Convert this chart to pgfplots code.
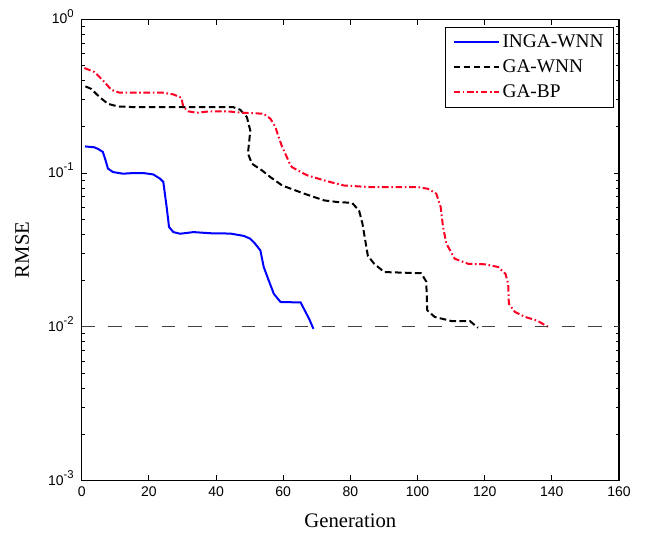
\documentclass[border=0pt]{standalone}
\usepackage{fontspec}
\setmainfont{Liberation Serif}
\setsansfont{Liberation Sans}
\usepackage{pgfplots}
\pgfplotsset{compat=1.18}
\definecolor{mred}{RGB}{255,0,36}
\newcommand{\sups}[1]{\raisebox{5.2pt}{\fontsize{8.5}{9}\selectfont #1}}
\begin{document}
\begin{tikzpicture}
\begin{axis}[
  scale only axis,
  width=403pt, height=346pt,
  ymode=log,
  xmin=0, xmax=160, ymin=1e-3, ymax=1,
  xtick={0,20,...,160},
  ytick={1e-3,1e-2,1e-1,1},
  yticklabels={10\sups{-3},10\sups{-2},10\sups{-1},10\sups{0}},
  minor x tick num=0,
  tick align=inside,
  axis line style={line width=0.8pt},
  every tick/.style={black, line width=0.6pt},
  major tick length=4pt, minor tick length=2.5pt,
  /pgf/number format/assume math mode=true,
  ticklabel style={font=\sffamily\fontsize{10.5}{12}\selectfont},
  yticklabel style={xshift=-2.5pt, yshift=2pt},
  xticklabel style={yshift=-1pt},
  xlabel={Generation},
  ylabel={RMSE},
  label style={font=\fontsize{15.5}{18}\selectfont},
  xlabel style={at={(axis description cs:0.5,-0.1025)}, anchor=base},
  ylabel style={at={(axis description cs:-0.111,0.5)}, anchor=center},
  clip=false,
  legend style={at={(axis description cs:0.9907,0.984)}, anchor=north east,
    font=\fontsize{14.5}{17}\selectfont, draw=black, line width=0.8pt,
    inner xsep=5.5pt, inner ysep=2pt,
    nodes={text height=10.5pt, text depth=3pt, inner ysep=2.6pt},
    cells={anchor=west}},
  legend image code/.code={\draw[#1, line width=1.5pt] (0pt,0pt) -- (34pt,0pt);},
]
\addplot[blue, line width=1.5pt] coordinates {
(1,0.149) (3.8,0.147) (5,0.143) (6.3,0.137) (7.1,0.121) (7.8,0.107) (9.3,0.1015)
(12.3,0.099) (15.3,0.1) (18.3,0.1) (21.3,0.098) (23.3,0.092) (24.3,0.0875)
(25.3,0.060) (26,0.0446) (27.3,0.0413) (29.3,0.0403) (33.3,0.0413) (38.3,0.0406)
(44.3,0.0404) (48.3,0.039) (50.2,0.0374) (51.5,0.035) (53.2,0.0314) (54.2,0.0245)
(55.7,0.020) (57.2,0.0164) (59.2,0.0145) (65.2,0.0144) (66.4,0.0128) (67.7,0.0113) (69,0.0097)
};
\addlegendentry{INGA-WNN}
\addplot[black, line width=1.5pt, dash pattern=on 5pt off 2.5pt] coordinates {
(1.1,0.366) (2.8,0.353) (5.3,0.312) (7.8,0.282) (10.8,0.271) (16.3,0.268) (26.2,0.268)
(36.2,0.268) (45.2,0.268) (47.2,0.258) (49.2,0.231) (50.2,0.189) (49.8,0.155) (49.5,0.134)
(50.7,0.115) (53.7,0.104) (56.2,0.094) (59.7,0.083) (66.2,0.0735) (72.2,0.0664)
(76.1,0.0648) (80.5,0.064) (82.6,0.057) (83.6,0.0469) (84.6,0.0347) (85.2,0.029)
(87.1,0.0257) (90.1,0.0227) (101.1,0.0223) (102.6,0.0197) (102.9,0.0128) (105.1,0.0116)
(110.1,0.0109) (115.6,0.0109) (118,0.00986)
};
\addlegendentry{GA-WNN}
\addplot[mred, line width=1.5pt, dash pattern=on 5pt off 2pt on 1.2pt off 2pt] coordinates {
(0.8,0.482) (3.8,0.454) (6.3,0.401) (8.8,0.348) (11.3,0.333) (16.3,0.333) (24.2,0.333)
(27.2,0.325) (29.7,0.309) (30.2,0.271) (31.7,0.252) (34.2,0.2466) (38.2,0.252) (43.2,0.252)
(48.2,0.2466) (54.2,0.243) (56.2,0.2255) (57.7,0.199) (58.5,0.175) (59.7,0.1476) (60.2,0.140)
(62.2,0.112) (62.7,0.109) (66.2,0.099) (67.2,0.0966) (72.2,0.0896) (74.1,0.0873) (78.1,0.083)
(81.1,0.0822) (86.1,0.081) (95.1,0.081) (100.1,0.081) (103.1,0.079) (105.6,0.0734)
(106.9,0.060) (107.6,0.0446) (108.6,0.0347) (111.1,0.0277) (115.1,0.0257) (120.1,0.0255)
(124,0.0245) (126.2,0.0221) (127,0.019) (127.2,0.0141) (129,0.0125) (132,0.0116)
(135.5,0.011) (139,0.00997)
};
\addlegendentry{GA-BP}
\addplot[black!75, line width=0.6pt, dash pattern=on 10pt off 10pt, forget plot] coordinates {(0,0.01) (160,0.01)};
\path (rel axis cs:-0.1521,-0.1133) rectangle (rel axis cs:1.0484,1.0418);
\end{axis}
\end{tikzpicture}
\end{document}
